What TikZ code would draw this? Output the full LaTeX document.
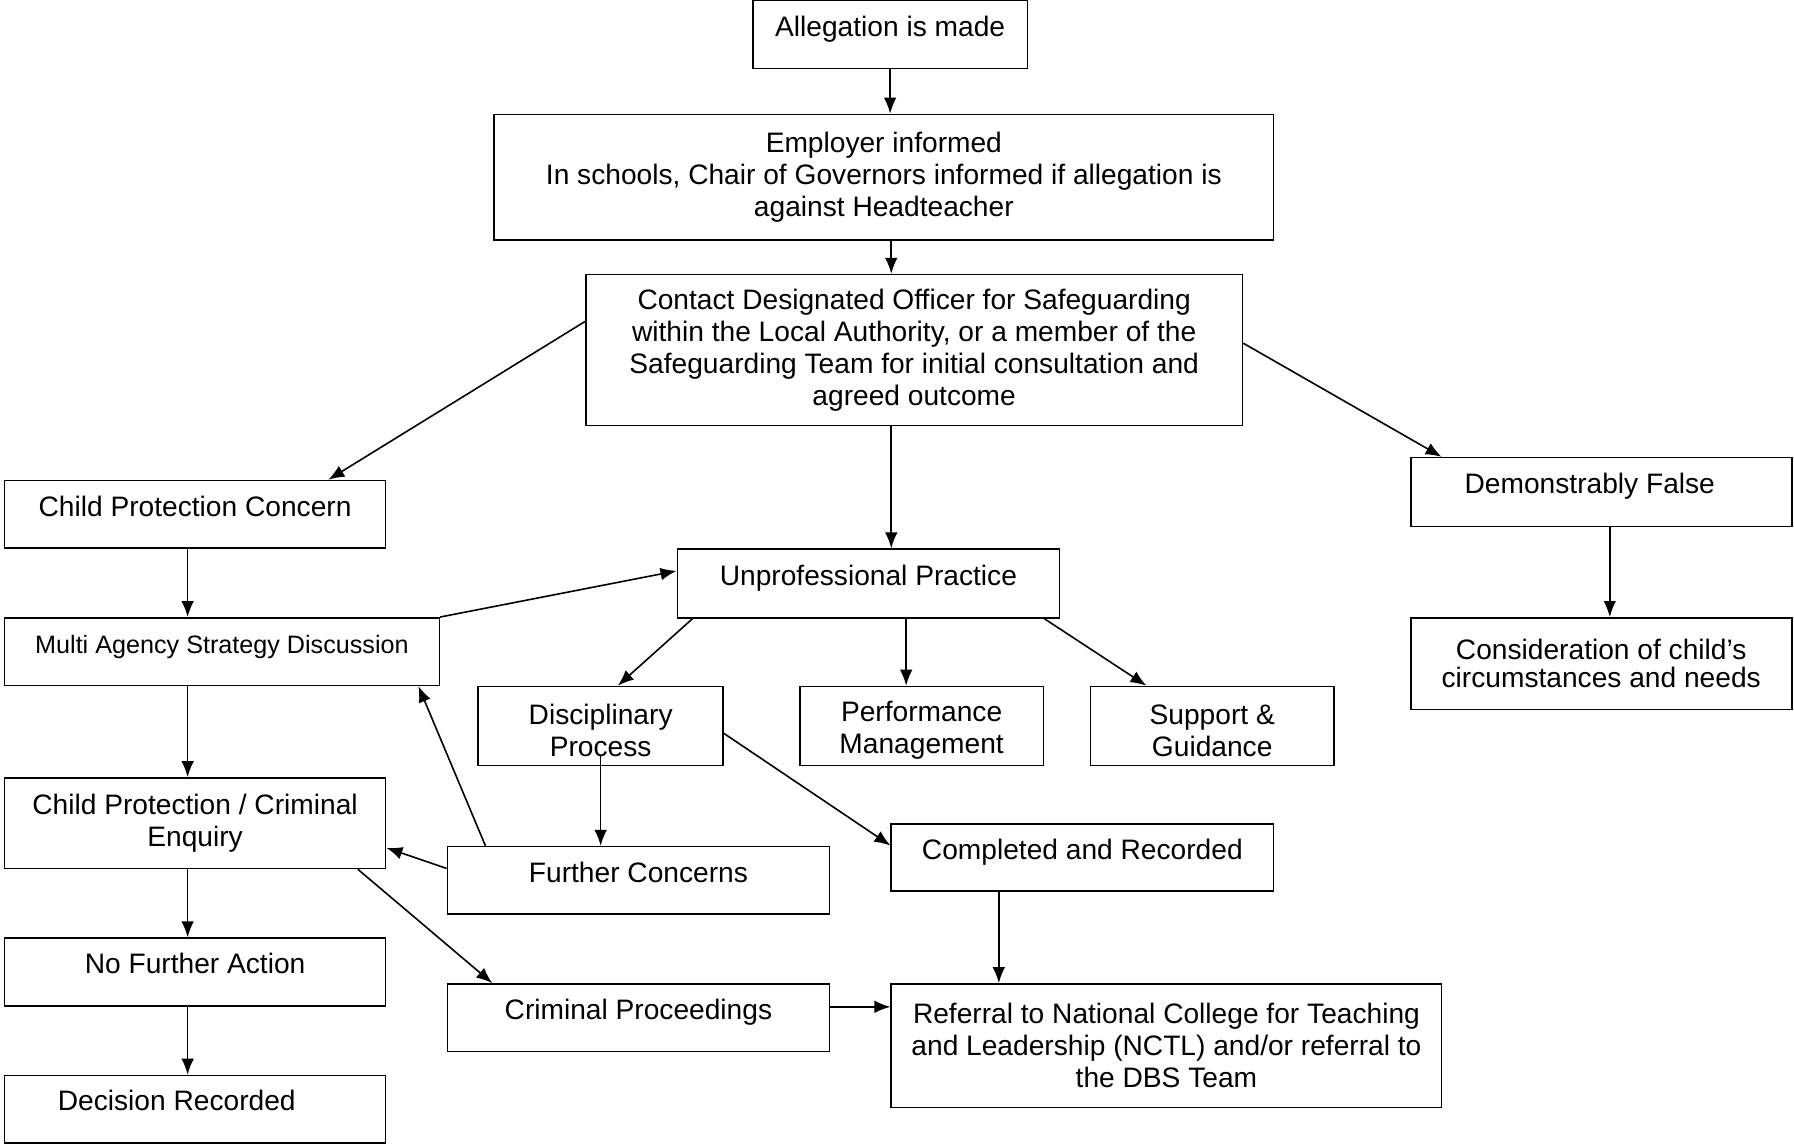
\documentclass[tikz,border=0pt]{standalone}
\usepackage{fontspec}
\setmainfont{Liberation Sans}
\usetikzlibrary{arrows.meta}

\begin{document}
\begin{tikzpicture}[x=0.5pt, y=-0.5pt, line width=0.7pt,
  box/.style={draw, rectangle, align=center, inner sep=2pt, font=\fontsize{12.3}{14}\selectfont},
  single/.style={text height=9pt, text depth=7.5pt},
  twoline/.style={text height=26.5pt},
  >={Latex[length=7pt,width=5.5pt]}]
  \useasboundingbox (0,0) rectangle (1568,1000);
  \node[box, single, minimum width=120pt, minimum height=30pt] (alleg) at (778,30) {Allegation is made};
  \node[box, minimum width=340.5pt, minimum height=55pt] (employer) at (772.5,155) {Employer informed\\In schools, Chair of Governors informed if allegation is\\against Headteacher};
  \node[box, minimum width=287pt, minimum height=66pt] (contact) at (799,306) {Contact Designated Officer for Safeguarding\\within the Local Authority, or a member of the\\Safeguarding Team for initial consultation and\\agreed outcome};
  \node[box, single, minimum width=166.5pt, minimum height=29.5pt] (cpc) at (170.5,449.5) {Child Protection Concern};
  \node[box, single, minimum width=167pt, minimum height=30pt] (unprof) at (759,510) {Unprofessional Practice};
  \node[box, single, minimum width=166.5pt, minimum height=30pt] (false) at (1399.5,430) {Demonstrably False\hspace{10pt}\null};
  \node[box, single, minimum width=190pt, minimum height=29.5pt, font=\fontsize{11}{13}\selectfont] (masd) at (194,569.5) {Multi Agency Strategy Discussion};
  \node[box, minimum width=166.5pt, minimum height=40pt, font=\fontsize{12.3}{12}\selectfont] (consid) at (1399.5,580) {Consideration of child’s\\circumstances and needs};
  \node[box, twoline, minimum width=107pt, minimum height=34.5pt] (disc) at (525,634.5) {Disciplinary\\Process};
  \node[box, twoline, minimum width=106.5pt, minimum height=34.5pt] (perf) at (805.5,634.5) {Performance\\Management};
  \node[box, twoline, minimum width=106.5pt, minimum height=34.5pt] (support) at (1059.5,634.5) {Support \&\\Guidance};
  \node[box, minimum width=166.5pt, minimum height=39.5pt] (cpce) at (170.5,719.5) {Child Protection / Criminal\\Enquiry};
  \node[box, single, minimum width=167pt, minimum height=29.5pt] (further) at (558,769.5) {Further Concerns};
  \node[box, single, minimum width=167pt, minimum height=29.5pt] (completed) at (946,749.5) {Completed and Recorded};
  \node[box, single, minimum width=166.5pt, minimum height=29.5pt] (nfa) at (170.5,849.5) {No Further Action};
  \node[box, single, minimum width=167pt, minimum height=29.5pt] (crim) at (558,889.5) {Criminal Proceedings};
  \node[box, minimum width=240.5pt, minimum height=54pt] (referral) at (1019.5,914) {Referral to National College for Teaching\\and Leadership (NCTL) and/or referral to\\the DBS Team};
  \node[box, single, minimum width=166.5pt, minimum height=29.5pt] (decision) at (170.5,969.5) {Decision Recorded\hspace{16pt}\null};
  \path[->]
  (alleg.south) edge (alleg.south |- employer.north)
  ([xshift=3.25pt]employer.south) edge ([xshift=3.25pt]employer.south |- contact.north)
  ([yshift=12.5pt]contact.west) edge ([xshift=58.25pt]cpc.north)
  ([xshift=-10pt]contact.south) edge ([xshift=-10pt]contact.south |- unprof.north)
  ([yshift=3pt]contact.east) edge ([xshift=-69.75pt]false.north)
  ([xshift=-3.25pt]cpc.south) edge ([xshift=-3.25pt]cpc.south |- masd.north)
  (masd.north east) edge ([yshift=5.5pt]unprof.west)
  ([xshift=7pt]unprof.south west) edge ([xshift=7.5pt]disc.north)
  ([xshift=16.5pt]unprof.south) edge ([xshift=16.5pt]unprof.south |- perf.north)
  ([xshift=-7pt]unprof.south east) edge ([xshift=-28.75pt]support.north)
  ([xshift=3.75pt]false.south) edge ([xshift=3.75pt]false.south |- consid.north)
  ([xshift=-3.25pt]cpce.north |- masd.south) edge ([xshift=-3.25pt]cpce.north)
  ([yshift=4.5pt]disc.south) edge (disc.south |- further.north)
  ([yshift=-3.25pt]disc.east) edge ([yshift=5.25pt]completed.west)
  ([xshift=17pt]further.north west) edge ([xshift=-9.5pt]masd.south east)
  ([yshift=5.25pt]further.west) edge ([yshift=-10.75pt]cpce.east)
  ([xshift=-12.5pt]cpce.south east) edge ([xshift=20pt]crim.north west)
  ([yshift=4.75pt]crim.east) edge ([yshift=4.75pt]crim.east -| referral.west)
  ([xshift=-36.5pt]completed.south) edge ([xshift=-36.5pt]completed.south |- referral.north)
  ([xshift=-3.25pt]cpce.south) edge ([xshift=-3.25pt]cpce.south |- nfa.north)
  ([xshift=-3.25pt]nfa.south) edge ([xshift=-3.25pt]nfa.south |- decision.north);
\end{tikzpicture}
\end{document}
